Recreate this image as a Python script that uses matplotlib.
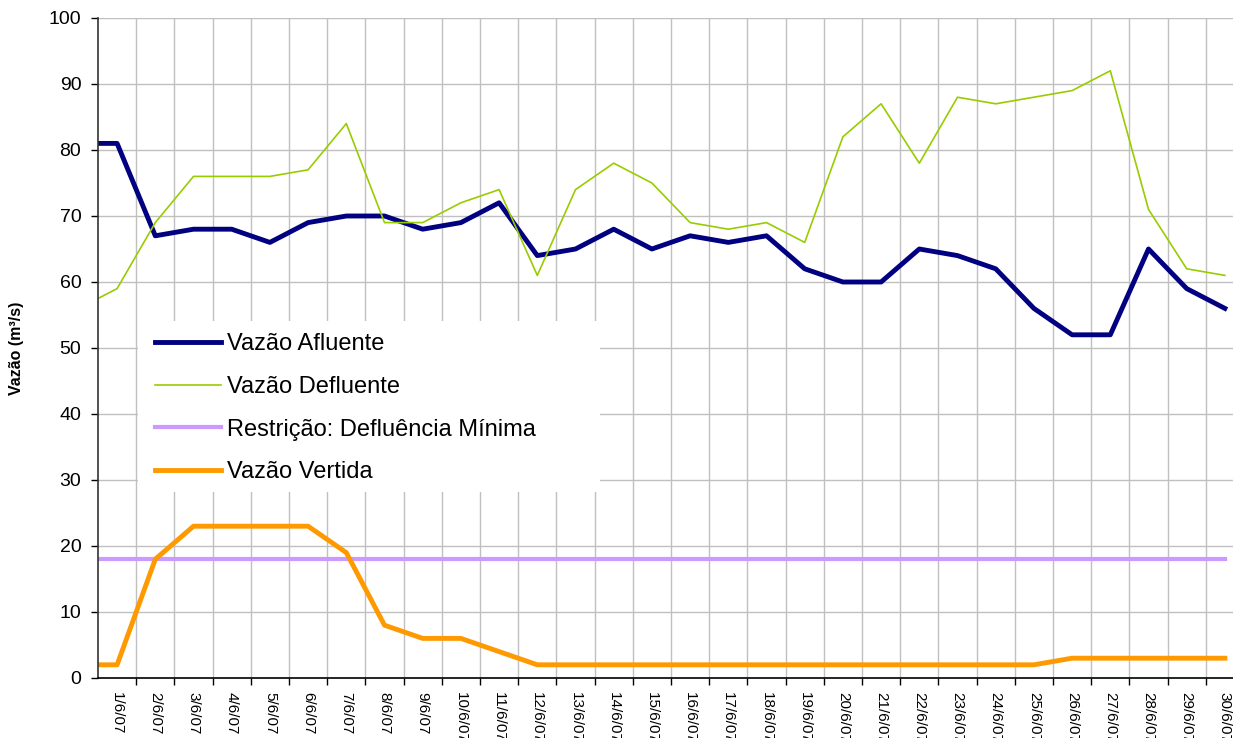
import matplotlib
matplotlib.use('Agg')
import matplotlib.pyplot as plt
import numpy as np
from matplotlib.patches import Rectangle

plt.rcParams['font.family'] = ['Liberation Sans', 'DejaVu Sans']

# day positions: first point sits half a day before 1/6 (left edge of axis)
days = [0.5] + list(range(1, 31))
day_labels = ['%d/6/07' % d for d in range(1, 31)]

afluente = [81, 81, 67, 68, 68, 66, 69, 70, 70, 68, 69, 72, 64, 65, 68, 65,
            67, 66, 67, 62, 60, 60, 65, 64, 62, 56, 52, 52, 65, 59, 56]
defluente = [57.5, 59, 69, 76, 76, 76, 77, 84, 69, 69, 72, 74, 61, 74, 78, 75,
             69, 68, 69, 66, 82, 87, 78, 88, 87, 88, 89, 92, 71, 62, 61]
restricao = [18] * 31
vertida = [2, 2, 18, 23, 23, 23, 23, 19, 8, 6, 6, 4, 2, 2, 2, 2,
           2, 2, 2, 2, 2, 2, 2, 2, 2, 2, 3, 3, 3, 3, 3]

W, H = 1233, 738
fig = plt.figure(figsize=(W / 100, H / 100), dpi=100)
ax = fig.add_axes([98 / W, 1 - 678 / H, (1244 - 98) / W, (678 - 18) / H])

p1 = ax.plot(days, afluente, color='#000080', linewidth=3.5)
p2 = ax.plot(days, defluente, color='#99CC00', linewidth=1.2)
p3 = ax.plot(days, restricao, color='#CC99FF', linewidth=3)
p4 = ax.plot(days, vertida, color='#FF9900', linewidth=3.5)

ax.set_xlim(0.5, 30.5)
ax.set_ylim(0, 100)
ax.set_yticks(np.arange(0, 100.1, 10))
ax.set_xticks(range(1, 31))
ax.set_xticklabels(day_labels, rotation=-90, fontsize=11)
ax.set_xticks(np.arange(1.5, 30.5, 1), minor=True)
ax.tick_params(axis='x', which='major', length=0, pad=10)
ax.tick_params(axis='x', which='minor', length=5, width=1, color='black')
ax.tick_params(axis='y', length=5, width=1, labelsize=14, pad=7)

ax.grid(axis='y', color='#C0C0C0', linewidth=1)
ax.grid(axis='x', which='minor', color='#C0C0C0', linewidth=1)
ax.set_axisbelow(True)

for s in ['top', 'right']:
    ax.spines[s].set_visible(False)
ax.spines['left'].set_color('#333333')
ax.spines['bottom'].set_color('black')
ax.spines['left'].set_linewidth(1.2)
ax.spines['bottom'].set_linewidth(1.2)

# white legend area like the original sheet
ax.add_patch(Rectangle((138 / W, 1 - 492 / H), (600 - 138) / W, (492 - 321) / H,
                       transform=fig.transFigure, facecolor='white', edgecolor='none',
                       zorder=1.8, clip_on=False))

leg = ax.legend((p1[0], p2[0], p3[0], p4[0]),
                ('Vazão Afluente', 'Vazão Defluente', 'Restrição: Defluência Mínima', 'Vazão Vertida'),
                loc='upper left', bbox_to_anchor=(155 / W, 1 - 333 / H),
                bbox_transform=fig.transFigure, frameon=False, fontsize=17,
                handlelength=2.8, handletextpad=0.25, labelspacing=0.88,
                borderpad=0, borderaxespad=0)
leg.set_zorder(5)

fig.text(17 / W, 1 - 348 / H, 'Vazão (m³/s)', rotation=90, fontsize=11.5,
         fontweight='bold', ha='center', va='center')

plt.savefig('out.png', dpi=100)
